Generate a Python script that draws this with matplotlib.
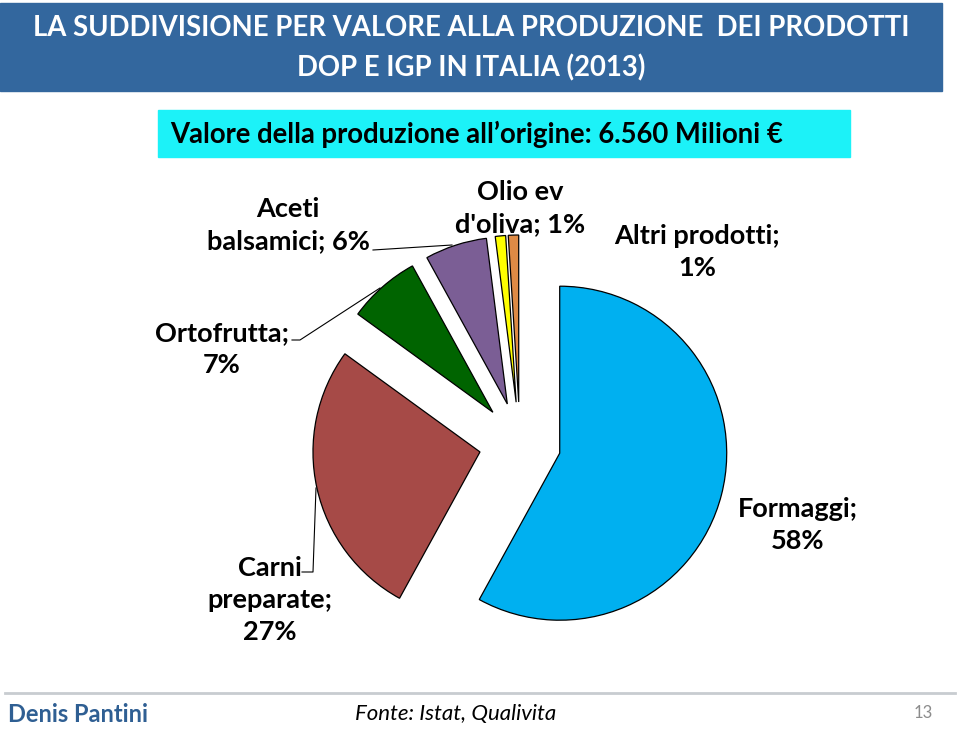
import matplotlib.pyplot as plt
from matplotlib.patches import Rectangle

plt.rcParams['font.family'] = ['Lato', 'DejaVu Sans']

# data
categories = ['Formaggi', 'Carni\npreparate', 'Ortofrutta', 'Aceti\nbalsamici', 'Olio ev\nd\'oliva', 'Altri prodotti']
shares = [58, 27, 7, 6, 1, 1]
colors = ['#00B0F0', '#A64A47', '#006400', '#7B5E95', '#FFFF00', '#DE8A45']

W, H = 960, 729
fig = plt.figure(figsize=(W / 100, H / 100), dpi=100)
ax = fig.add_axes([0, 0, 1, 1])


def yy(y):
    # image y (from top) -> axes y
    return H - y


# pie, in pixel units
ax.pie(shares, colors=colors, startangle=90, counterclock=False,
       center=(520, yy(443)), radius=167, explode=[41] * len(shares),
       wedgeprops=dict(edgecolor='black', linewidth=0.9))

ax.set_xlim(0, W)
ax.set_ylim(0, H)
ax.set_aspect('auto')
ax.axis('off')

# title band
ax.add_patch(Rectangle((0, yy(91)), 942, 88, color='#33679E', zorder=0))
ax.text(471, yy(28), 'LA SUDDIVISIONE PER VALORE ALLA PRODUZIONE  DEI PRODOTTI',
        color='white', fontsize=19.8, fontweight='bold', ha='center', va='center')
ax.text(471, yy(68), 'DOP E IGP IN ITALIA (2013)',
        color='white', fontsize=19.8, fontweight='bold', ha='center', va='center')

# subtitle box
ax.add_patch(Rectangle((158, yy(157)), 692, 47, color='#1CF2F8', zorder=0))
ax.text(170, yy(134), 'Valore della produzione all\u2019origine: 6.560 Milioni \u20ac',
        color='black', fontsize=19.8, fontweight='bold', ha='left', va='center')

# slice labels
label_pos = [(798, 525), (270, 600), (222, 349), (288, 225), (520, 208), (697, 252)]
for name, pct, (x, y) in zip(categories, shares, label_pos):
    txt = f'{name}; {pct}%'
    if name in ('Formaggi', 'Ortofrutta', 'Altri prodotti') or name.startswith('Carni'):
        txt = f'{name};\n{pct}%'
    ax.text(x, yy(y), txt, fontsize=19.5, fontweight='bold', ha='center', va='center',
            linespacing=1.4)

# leader lines
ax.plot([373, 452], [yy(250), yy(245)], color='black', lw=0.8)
ax.plot([292, 300, 380], [yy(340), yy(340), yy(288)], color='black', lw=0.8)
ax.plot([302, 313, 316], [yy(572), yy(572), yy(488)], color='black', lw=0.8)

# footer
ax.plot([5, 955], [yy(693), yy(693)], color='#C8CCD0', lw=2)
ax.text(8, yy(714), 'Denis Pantini', color='#2F5F93', fontsize=17, fontweight='bold',
        ha='left', va='center')
ax.text(456, yy(714), 'Fonte: Istat, Qualivita', color='black', fontsize=16, style='italic',
        ha='center', va='center')
ax.text(923, yy(713), '13', color='#8C8C8C', fontsize=12, ha='center', va='center')

fig.savefig('out.png', dpi=100)
